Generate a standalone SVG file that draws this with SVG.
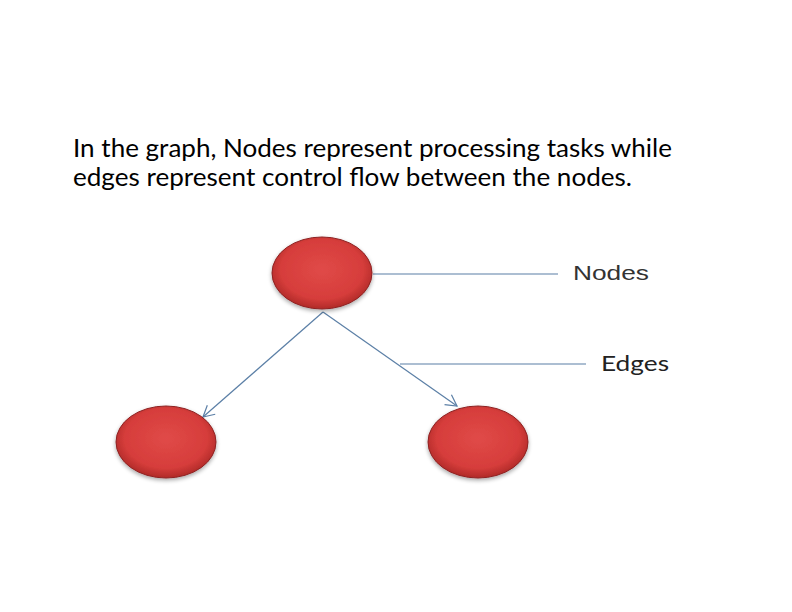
<svg xmlns="http://www.w3.org/2000/svg" width="792" height="612" viewBox="0 0 792 612">
<style>
.cap{font-family:Lato,"Open Sans","Liberation Sans",sans-serif;font-size:25px;fill:#000}
.lbl{font-family:"Liberation Sans",Arial,sans-serif;font-size:21px;fill:#333}
.lbl2{font-family:Lato,"Open Sans",sans-serif;font-size:22px;fill:#222}
.node{fill:url(#rg);stroke:#8e2323;stroke-width:1}
.edge{stroke:#5b7fa6;stroke-width:1.2;fill:none}
</style>
<defs>
<radialGradient id="rg" cx="50%" cy="45%" r="55%">
<stop offset="0" stop-color="#e04a48"/>
<stop offset="0.75" stop-color="#d63d3b"/>
<stop offset="1" stop-color="#b02a28"/>
</radialGradient>
<filter id="sh" x="-20%" y="-20%" width="140%" height="150%">
<feGaussianBlur in="SourceAlpha" stdDeviation="2"/>
<feOffset dy="2"/>
<feComponentTransfer><feFuncA type="linear" slope="0.35"/></feComponentTransfer>
<feMerge><feMergeNode/><feMergeNode in="SourceGraphic"/></feMerge>
</filter>
<marker id="ah" markerWidth="14" markerHeight="14" refX="12" refY="7" orient="auto" markerUnits="userSpaceOnUse">
<path d="M1,1 L12,7 L1,13" fill="none" stroke="#5b7fa6" stroke-width="1.2"/>
</marker>
</defs>
<rect width="792" height="612" fill="#fff"/>
<text class="cap" x="73" y="157" textLength="599" lengthAdjust="spacingAndGlyphs">In the graph, Nodes represent processing tasks while</text>
<text class="cap" x="73" y="186" textLength="559" lengthAdjust="spacingAndGlyphs">edges represent control flow between the nodes.</text>
<g id="connectors">
<line class="edge" x1="323" y1="312" x2="203" y2="417" marker-end="url(#ah)"/>
<line class="edge" x1="323" y1="312" x2="457" y2="406" marker-end="url(#ah)"/>
<line class="edge" x1="373" y1="274" x2="558" y2="274"/>
<line class="edge" x1="400" y1="364" x2="586" y2="364"/>
</g>
<g id="node-top"><ellipse class="node" filter="url(#sh)" cx="322" cy="273" rx="50" ry="36"/></g>
<g id="node-left"><ellipse class="node" filter="url(#sh)" cx="166" cy="442" rx="50" ry="36"/></g>
<g id="node-right"><ellipse class="node" filter="url(#sh)" cx="478" cy="442" rx="50" ry="36"/></g>
<g id="label-nodes"><text class="lbl" x="573" y="280" textLength="76" lengthAdjust="spacingAndGlyphs">Nodes</text></g>
<g id="label-edges"><text class="lbl2" x="601" y="371" textLength="68" lengthAdjust="spacingAndGlyphs">Edges</text></g>
</svg>
